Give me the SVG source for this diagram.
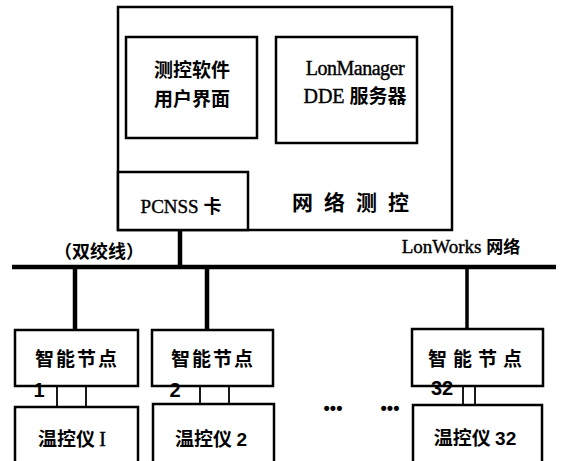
<svg xmlns="http://www.w3.org/2000/svg" width="564" height="461" viewBox="0 0 564 461">
<style>
.box{fill:#fff;stroke:#000;stroke-width:2.5}
.cn{font-family:"Noto Sans CJK SC","Noto Sans",sans-serif;font-weight:bold;fill:#000}
.se{font-family:"Liberation Serif","Noto Sans CJK SC",serif;fill:#000;stroke:#000;stroke-width:0.4}
.num{font-family:"Liberation Sans",sans-serif;font-weight:bold;fill:#000}
.bus{stroke:#000;stroke-width:4.5;fill:none}
.thin{stroke:#000;stroke-width:1.8;fill:none}
</style>
<rect width="564" height="461" fill="#fff"/>
<g id="connectors">
<line class="bus" x1="12" y1="267" x2="556" y2="267"/>
<line class="bus" x1="180" y1="230" x2="180" y2="267"/>
<line class="bus" x1="75" y1="267" x2="75" y2="330"/>
<line class="bus" x1="207" y1="267" x2="207" y2="330"/>
<line class="bus" x1="467" y1="267" x2="467" y2="329" style="stroke-width:3.5"/>
<line class="thin" x1="257" y1="88" x2="276" y2="88"/>
<line class="thin" x1="57" y1="386" x2="57" y2="407"/>
<line class="thin" x1="86" y1="386" x2="86" y2="407"/>
<line class="thin" x1="200" y1="386" x2="200" y2="404"/>
<line class="thin" x1="229" y1="386" x2="229" y2="404"/>
<line class="thin" x1="463" y1="386" x2="463" y2="405"/>
<line class="thin" x1="475" y1="386" x2="475" y2="405"/>
</g>
<g id="network-control">
<rect class="box" x="118" y="7" width="334" height="223"/>
<text class="cn" x="356" y="210" font-size="21" letter-spacing="11" text-anchor="middle">网络测控</text>
</g>
<g id="software-ui">
<rect class="box" x="126" y="37" width="131" height="101"/>
<text class="cn" x="192" y="77" font-size="19" text-anchor="middle">测控软件</text>
<text class="cn" x="192" y="106" font-size="19" text-anchor="middle">用户界面</text>
</g>
<g id="dde-server">
<rect class="box" x="276" y="37" width="141" height="106"/>
<text class="se" x="355" y="75" font-size="20" text-anchor="middle" letter-spacing="-0.5">LonManager</text>
<text x="355" y="103" font-size="20" text-anchor="middle"><tspan class="se">DDE </tspan><tspan class="cn" font-size="19">服务器</tspan></text>
</g>
<g id="pcnss">
<rect class="box" x="118" y="172" width="130" height="58"/>
<text x="181" y="213" font-size="19" text-anchor="middle"><tspan class="se">PCNSS </tspan><tspan class="cn" font-size="18">卡</tspan></text>
</g>
<text class="cn" x="99" y="258" font-size="18" text-anchor="middle">（双绞线）</text>
<text x="461" y="253" font-size="19" text-anchor="middle"><tspan class="se">LonWorks </tspan><tspan class="cn" font-size="17">网络</tspan></text>
<g id="node1">
<rect class="box" x="15" y="330" width="123" height="56"/>
<text class="cn" x="77" y="366" font-size="19" letter-spacing="2" text-anchor="middle">智能节点</text>
<text class="num" x="39" y="397" font-size="20" text-anchor="middle">1</text>
</g>
<g id="node2">
<rect class="box" x="152" y="330" width="121" height="56"/>
<text class="cn" x="213" y="366" font-size="19" letter-spacing="2" text-anchor="middle">智能节点</text>
<text class="num" x="175" y="397" font-size="20" text-anchor="middle">2</text>
</g>
<g id="node32">
<rect class="box" x="412" y="329" width="131" height="57"/>
<text class="cn" x="478" y="366" font-size="19" letter-spacing="6" text-anchor="middle">智能节点</text>
<text class="num" x="442" y="395" font-size="20" text-anchor="middle">32</text>
</g>
<g id="thermo1">
<rect class="box" x="15" y="407" width="123" height="58"/>
<text x="72" y="446" font-size="19" text-anchor="middle"><tspan class="cn">温控仪 </tspan><tspan class="se" font-size="20">I</tspan></text>
</g>
<g id="thermo2">
<rect class="box" x="153" y="404" width="121" height="61"/>
<text x="211" y="446" font-size="19" text-anchor="middle"><tspan class="cn">温控仪 </tspan><tspan class="num" font-size="19">2</tspan></text>
</g>
<g id="thermo32">
<rect class="box" x="413" y="405" width="129" height="60"/>
<text x="475" y="445" font-size="19" text-anchor="middle"><tspan class="cn">温控仪 </tspan><tspan class="num" font-size="19">32</tspan></text>
</g>
<g id="ellipsis">
<text class="num" x="333" y="414" font-size="18" text-anchor="middle">•••</text>
<text class="num" x="390" y="414" font-size="18" text-anchor="middle">•••</text>
</g>
</svg>
